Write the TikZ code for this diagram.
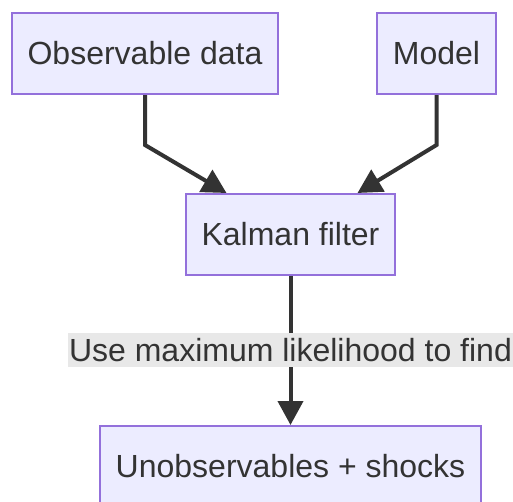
\documentclass[tikz,border=0pt]{standalone}
\usepackage{fontspec}
\setmainfont{Liberation Sans}
\usetikzlibrary{arrows.meta,calc}
\definecolor{boxfill}{HTML}{ECECFF}
\definecolor{boxdraw}{HTML}{9370DB}
\definecolor{ink}{HTML}{333333}
\definecolor{lblbg}{HTML}{E8E8E8}
\begin{document}
\begin{tikzpicture}[x=1pt,y=-1pt,
  flowbox/.style={draw=boxdraw,fill=boxfill,line width=2pt,inner sep=0pt,
    minimum height=81pt,text=ink,font=\fontsize{32}{38}\selectfont},
  conn/.style={draw=ink,line width=4pt,-{Triangle[length=24pt,width=25pt]}},
  edgelbl/.style={fill=lblbg,text=ink,inner xsep=1pt,inner ysep=0pt,minimum height=34pt,
    font=\fontsize{32}{38}\selectfont}]
\useasboundingbox (0,0) rectangle (513,501);
\clip (0,0) rectangle (513,501);
\node[flowbox,minimum width=266pt] (obs) at (145,53.5) {Observable data};
\node[flowbox,minimum width=119pt] (model) at (436.5,53.5) {Model};
\node[flowbox,minimum width=209pt] (kal) at (290.5,234.5) {Kalman filter};
\node[flowbox,minimum width=381pt] (unob) at (290.5,466.5) {Unobservables + shocks};
\coordinate (obsbend) at ($(obs.south)+(0,50)$);
\coordinate (modbend) at ($(model.south)+(0,50)$);
\draw[conn] (obs.south) -- (obsbend) -- ($(kal.north)+(-64,0)$);
\draw[conn] (model.south) -- (modbend) -- ($(kal.north)+(67,0)$);
\draw[conn] (kal.south) -- (unob.north);
\node[edgelbl] (lbl) at (290.5,350) {Use maximum likelihood to find};
\end{tikzpicture}
\end{document}
